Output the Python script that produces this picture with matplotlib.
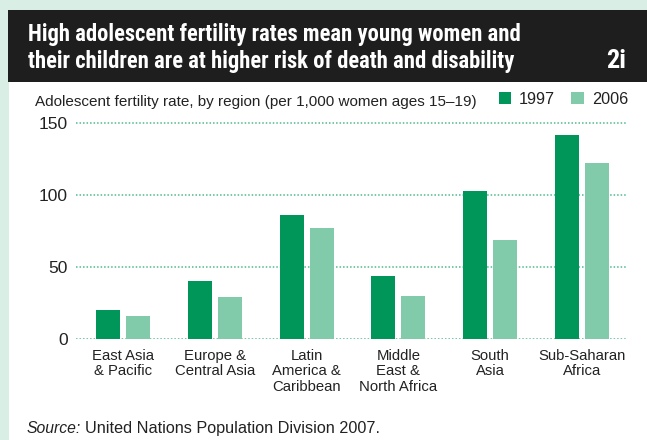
import matplotlib
matplotlib.use("Agg")
import matplotlib.pyplot as plt
from matplotlib.patches import Rectangle
from matplotlib import font_manager
import numpy as np

regions = ["East Asia\n& Pacific", "Europe &\nCentral Asia", "Latin\nAmerica &\nCaribbean",
           "Middle\nEast &\nNorth Africa", "South\nAsia", "Sub-Saharan\nAfrica"]
rate_1997 = [20, 40, 86, 44, 103, 142]
rate_2006 = [16, 29, 77, 30, 69, 122]
series_labels = ["1997", "2006"]
y_ticks = [0, 50, 100, 150]

DARK = "#00965a"
LIGHT = "#82cbaa"
MINT = "#d9eee5"
HEADER = "#1e1e1e"
TEXT = "#222222"
GRID = "#4fba8c"

installed = {f.name for f in font_manager.fontManager.ttflist}
narrow = next((n for n in ["Roboto Condensed", "Liberation Sans Narrow", "DejaVu Sans Condensed"]
               if n in installed), "Roboto")
body = "Liberation Sans"

W, H = 647, 440
fig = plt.figure(figsize=(W / 100, H / 100), dpi=100, facecolor=MINT)


def fx(px):
    return px / W


def fy(py):
    return 1 - py / H


# white panel and dark title band
fig.patches.append(Rectangle((fx(9), 0), 1 - fx(9), fy(82), transform=fig.transFigure,
                             facecolor="white", edgecolor="none", zorder=-10))
fig.patches.append(Rectangle((fx(8), fy(82)), 1 - fx(8), fy(10) - fy(82), transform=fig.transFigure,
                             facecolor=HEADER, edgecolor="none", zorder=-10))

fig.text(fx(28), fy(41), "High adolescent fertility rates mean young women and",
         color="white", fontsize=16.3, fontweight="bold", family=narrow, va="baseline")
fig.text(fx(28), fy(68), "their children are at higher risk of death and disability",
         color="white", fontsize=16.3, fontweight="bold", family=narrow, va="baseline")
fig.text(fx(626), fy(68), "2i", color="white", fontsize=19, fontweight="bold",
         family=narrow, va="baseline", ha="right")

fig.text(fx(35), fy(106), "Adolescent fertility rate, by region (per 1,000 women ages 15\u201319)",
         color=TEXT, fontsize=11, family=body, va="baseline")

# axes
y0, ytop = 339, 120.1
ax = fig.add_axes([fx(76), fy(y0), fx(626) - fx(76), fy(ytop) - fy(y0)])
ax.set_facecolor("none")
x = np.arange(len(regions))
bw = 0.261
off = 0.163
ax.bar(x - off, rate_1997, width=bw, color=DARK, label=series_labels[0], zorder=2)
ax.bar(x + off, rate_2006, width=bw, color=LIGHT, label=series_labels[1], zorder=2)
ax.set_xlim(-0.512, 5.479)
ax.set_ylim(0, 152)
for t in y_ticks:
    ax.axhline(t, color=GRID, linestyle=(0, (1, 1.3)), linewidth=1.1, zorder=1)
for s in ax.spines.values():
    s.set_visible(False)
ax.set_yticks(y_ticks)
ax.set_yticklabels([str(t) for t in y_ticks], fontsize=12.5, color=TEXT, family=body)
ax.tick_params(axis="y", length=0, pad=6)
ax.set_xticks(x)
ax.set_xticklabels(regions, fontsize=10.7, color=TEXT, family=body, linespacing=1.15)
ax.tick_params(axis="x", length=0, pad=7)

leg = fig.legend(loc="upper right", bbox_to_anchor=(fx(628), fy(92)), ncol=2, frameon=False,
                 prop={"family": body, "size": 11.7}, handlelength=0.75, handleheight=0.75,
                 handletextpad=0.5, columnspacing=1.0, borderaxespad=0, borderpad=0)
for t in leg.get_texts():
    t.set_color(TEXT)

fig.text(fx(27), fy(433), "Source:", fontsize=11.3, style="italic", color=TEXT, family=body,
         va="baseline")
fig.text(fx(85), fy(433), "United Nations Population Division 2007.", fontsize=11.7, color=TEXT,
         family=body, va="baseline")

fig.savefig("out.png", dpi=100, facecolor=MINT)
